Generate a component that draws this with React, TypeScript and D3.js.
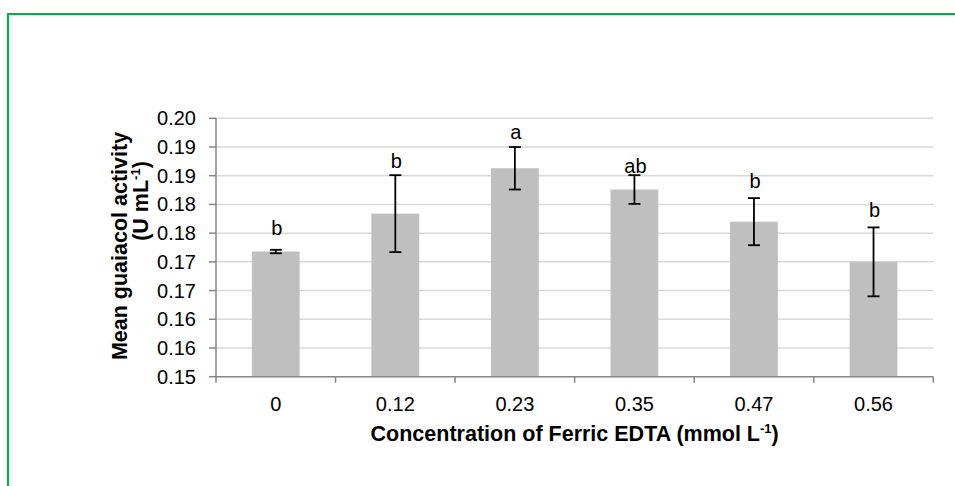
import React from "react";
import * as d3 from "d3";

const categories = ["0", "0.12", "0.23", "0.35", "0.47", "0.56"];
const means = [0.1718, 0.1784, 0.1863, 0.1826, 0.177, 0.17];
const errors = [0.0003, 0.0067, 0.0037, 0.0025, 0.0041, 0.006];
const letters = ["b", "b", "a", "ab", "b", "b"];
const yTicks = [0.15, 0.155, 0.16, 0.165, 0.17, 0.175, 0.18, 0.185, 0.19, 0.195];
const yTickLabels = ["0.15", "0.16", "0.16", "0.17", "0.17", "0.18", "0.18", "0.19", "0.19", "0.20"];

// layout-only: gap between error-bar top and letter baseline (px)
const letterGap = [15, 7, 8, 2, 10, 10];

const W = 955;
const H = 486;
const FONT = "'Liberation Sans', Arial, sans-serif";

export default function App() {
  const y = d3.scaleLinear().domain([0.15, 0.195]).range([376.7, 118.3]);
  const x = d3
    .scaleBand<string>()
    .domain(categories)
    .range([216, 933.3])
    .paddingInner(0.6)
    .paddingOuter(0.3);
  const step = x.step();
  const bw = x.bandwidth();
  const bounds = categories.map((c) => (x(c) as number) + bw / 2 - step / 2);
  bounds.push(bounds[bounds.length - 1] + step);
  const [x0, x1] = x.range();

  return (
    <svg
      width={W}
      height={H}
      style={{ position: "absolute", left: 0, top: 0, background: "#fff" }}
      fontFamily={FONT}
    >
      <rect x={0} y={0} width={W} height={H} fill="#fff" />
      <path d={`M8,${H + 2} V14 H${W + 2}`} fill="none" stroke="#00b050" strokeWidth={2.2} />

      {/* gridlines */}
      {yTicks.slice(1).map((t, i) => (
        <line key={"g" + i} x1={x0} x2={x1} y1={y(t)} y2={y(t)} stroke="#d9d9d9" strokeWidth={1.5} />
      ))}

      {/* bars */}
      {categories.map((c, i) => (
        <rect
          key={"b" + i}
          x={x(c)}
          y={y(means[i])}
          width={bw}
          height={y(0.15) - y(means[i])}
          fill="#bfbfbf"
        />
      ))}

      {/* axes */}
      <line x1={x0} x2={x0} y1={y(0.195)} y2={y(0.15)} stroke="#868686" strokeWidth={1.5} />
      {yTicks.map((t, i) => (
        <line key={"yt" + i} x1={x0 - 7} x2={x0} y1={y(t)} y2={y(t)} stroke="#868686" strokeWidth={1.5} />
      ))}
      <line x1={x0} x2={x1} y1={y(0.15)} y2={y(0.15)} stroke="#868686" strokeWidth={1.5} />
      {bounds.map((b, i) => (
        <line key={"xt" + i} x1={b} x2={b} y1={y(0.15)} y2={y(0.15) + 6} stroke="#868686" strokeWidth={1.5} />
      ))}

      {/* error bars */}
      {categories.map((c, i) => {
        const cx = (x(c) as number) + bw / 2;
        const top = y(means[i] + errors[i]);
        const bot = y(means[i] - errors[i]);
        return (
          <g key={"e" + i} stroke="#000" strokeWidth={1.8}>
            <line x1={cx} x2={cx} y1={top} y2={bot} />
            <line x1={cx - 6} x2={cx + 6} y1={top} y2={top} />
            <line x1={cx - 6} x2={cx + 6} y1={bot} y2={bot} />
          </g>
        );
      })}

      {/* letters */}
      {categories.map((c, i) => (
        <text
          key={"l" + i}
          x={(x(c) as number) + bw / 2 + 1}
          y={y(means[i] + errors[i]) - letterGap[i]}
          textAnchor="middle"
          fontSize={20}
          fill="#000"
        >
          {letters[i]}
        </text>
      ))}

      {/* y tick labels */}
      {yTicks.map((t, i) => (
        <text key={"yl" + i} x={196} y={y(t)} dy="0.35em" textAnchor="end" fontSize={20} fill="#000">
          {yTickLabels[i]}
        </text>
      ))}

      {/* x tick labels */}
      {categories.map((c, i) => (
        <text key={"xl" + i} x={(x(c) as number) + bw / 2} y={411} textAnchor="middle" fontSize={20} fill="#000">
          {c}
        </text>
      ))}

      {/* x title */}
      <text x={(x0 + x1) / 2} y={441} textAnchor="middle" fontSize={21.5} fontWeight="bold" fill="#000">
        Concentration of Ferric EDTA (mmol L
        <tspan fontSize={13} dy={-8}>-1</tspan>
        <tspan dy={8}>)</tspan>
      </text>

      {/* y title */}
      <text transform="translate(127,246) rotate(-90)" textAnchor="middle" fontSize={21.5} fontWeight="bold" fill="#000">
        Mean guaiacol activity
      </text>
      <text transform="translate(148,201) rotate(-90)" textAnchor="middle" fontSize={21.5} fontWeight="bold" fill="#000">
        (U mL
        <tspan fontSize={13} dy={-8}>-1</tspan>
        <tspan dy={8}>)</tspan>
      </text>
    </svg>
  );
}
